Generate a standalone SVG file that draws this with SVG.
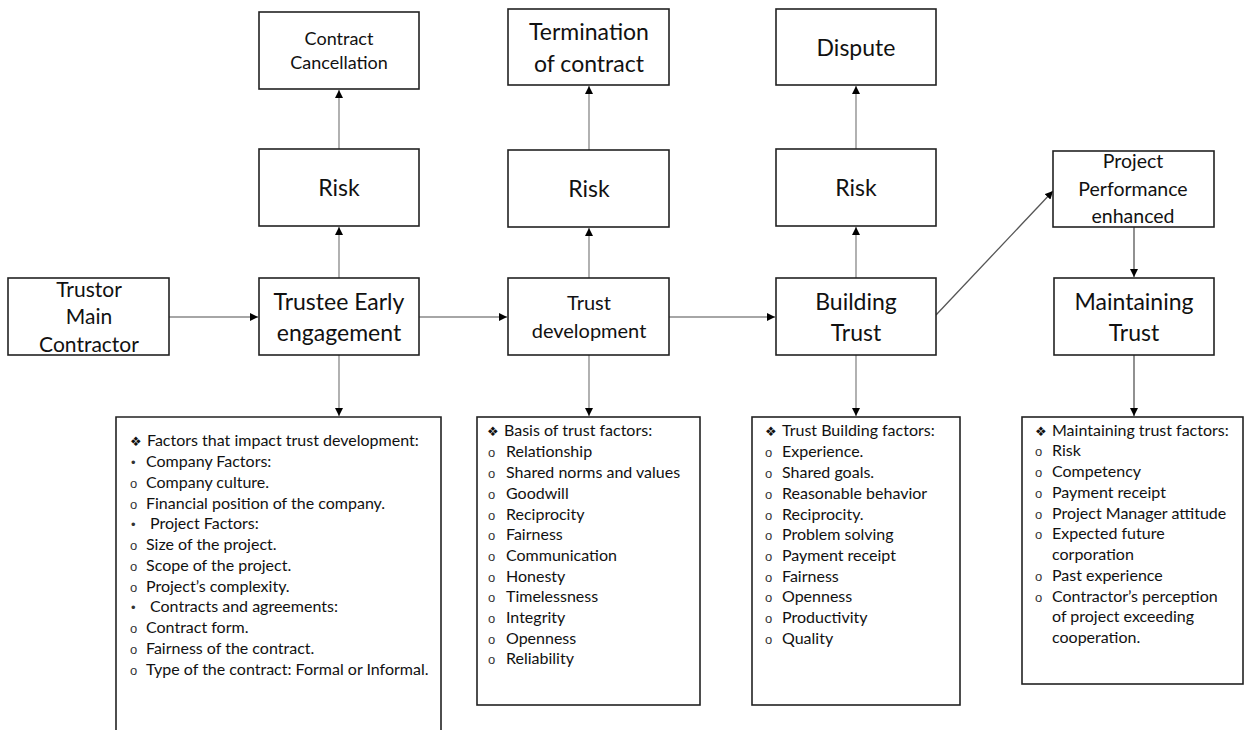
<svg xmlns="http://www.w3.org/2000/svg" width="1244" height="730" viewBox="0 0 1244 730">
<defs>
<style>
.box{fill:#fff;stroke:#222;stroke-width:1.6}
.t{font-family:Lato,"Open Sans","Liberation Sans",sans-serif;fill:#111;text-anchor:middle}
.l{font-family:Lato,"Open Sans","Liberation Sans",sans-serif;fill:#111;font-size:16px}
.s{font-family:"Liberation Sans",sans-serif;fill:#333;font-size:13px}
.d{font-family:"DejaVu Sans",sans-serif;fill:#111;font-size:13px}
.c{stroke:#888;stroke-width:1.3;fill:none;marker-end:url(#ah)}
</style>
<marker id="ah" viewBox="0 0 10 10" refX="10" refY="5" markerWidth="8" markerHeight="8" markerUnits="userSpaceOnUse" orient="auto"><path d="M0,0 L10,5 L0,10 z" fill="#000"/></marker>
</defs>
<rect width="1244" height="730" fill="#fff"/>
<g id="connectors">
<line class="c" x1="169" y1="317" x2="258" y2="317"/>
<line class="c" x1="419" y1="317" x2="507" y2="317"/>
<line class="c" x1="669" y1="317" x2="775" y2="317"/>
<line class="c" x1="339" y1="278" x2="339" y2="227"/>
<line class="c" x1="339" y1="149" x2="339" y2="90"/>
<line class="c" x1="589" y1="278" x2="589" y2="228"/>
<line class="c" x1="589" y1="150" x2="589" y2="86"/>
<line class="c" x1="856" y1="278" x2="856" y2="227"/>
<line class="c" x1="856" y1="149" x2="856" y2="86"/>
<line class="c" x1="936" y1="315" x2="1053" y2="191" style="stroke:#555"/>
<line class="c" x1="1134" y1="227" x2="1134" y2="277" style="stroke:#555"/>
<line class="c" x1="339" y1="355" x2="339" y2="416"/>
<line class="c" x1="589" y1="355" x2="589" y2="416"/>
<line class="c" x1="856" y1="355" x2="856" y2="416"/>
<line class="c" x1="1134" y1="355" x2="1134" y2="416" style="stroke:#555"/>
</g>
<g id="cancel"><rect class="box" x="259" y="12" width="160" height="77"/>
<text class="t" x="339" y="45" font-size="18">Contract</text><text class="t" x="339" y="69" font-size="18">Cancellation</text></g>
<g id="termination"><rect class="box" x="508" y="9" width="161" height="76"/>
<text class="t" x="589" y="40" font-size="23">Termination</text><text class="t" x="589" y="72" font-size="23">of contract</text></g>
<g id="dispute"><rect class="box" x="776" y="9" width="160" height="76"/>
<text class="t" x="856" y="56" font-size="23">Dispute</text></g>
<g id="risk1"><rect class="box" x="259" y="149" width="160" height="77"/>
<text class="t" x="339" y="196" font-size="23">Risk</text></g>
<g id="risk2"><rect class="box" x="508" y="150" width="161" height="77"/>
<text class="t" x="589" y="197" font-size="23">Risk</text></g>
<g id="risk3"><rect class="box" x="776" y="149" width="160" height="77"/>
<text class="t" x="856" y="196" font-size="23">Risk</text></g>
<g id="performance"><rect class="box" x="1053" y="151" width="161" height="76"/>
<text class="t" x="1133" y="168" font-size="19.5">Project</text><text class="t" x="1133" y="196" font-size="19.5">Performance</text><text class="t" x="1133" y="223" font-size="19.5">enhanced</text></g>
<g id="trustor"><rect class="box" x="8" y="278" width="161" height="77"/>
<text class="t" x="89" y="297" font-size="21">Trustor</text><text class="t" x="89" y="324" font-size="21">Main</text><text class="t" x="89" y="352" font-size="21">Contractor</text></g>
<g id="trustee"><rect class="box" x="259" y="278" width="160" height="77"/>
<text class="t" x="339" y="310" font-size="23">Trustee Early</text><text class="t" x="339" y="341" font-size="23">engagement</text></g>
<g id="development"><rect class="box" x="508" y="278" width="161" height="77"/>
<text class="t" x="589" y="310" font-size="20">Trust</text><text class="t" x="589" y="338" font-size="20">development</text></g>
<g id="building"><rect class="box" x="776" y="278" width="160" height="77"/>
<text class="t" x="856" y="310" font-size="23">Building</text><text class="t" x="856" y="341" font-size="23">Trust</text></g>
<g id="maintaining"><rect class="box" x="1054" y="278" width="160" height="77"/>
<text class="t" x="1134" y="310" font-size="23">Maintaining</text><text class="t" x="1134" y="341" font-size="23">Trust</text></g>
<g id="factors1"><path class="box" d="M116,731 V417 H441 V731"/>
<text class="d" x="130" y="446">❖</text><text class="l" x="147" y="446">Factors that impact trust development:</text>
<text class="s" x="131" y="467">•</text><text class="l" x="146" y="467">Company Factors:</text>
<text class="s" x="130" y="488">o</text><text class="l" x="146" y="488">Company culture.</text>
<text class="s" x="130" y="509">o</text><text class="l" x="146" y="509">Financial position of the company.</text>
<text class="s" x="131" y="529">•</text><text class="l" x="150" y="529">Project Factors:</text>
<text class="s" x="130" y="550">o</text><text class="l" x="146" y="550">Size of the project.</text>
<text class="s" x="130" y="571">o</text><text class="l" x="146" y="571">Scope of the project.</text>
<text class="s" x="130" y="592">o</text><text class="l" x="146" y="592">Project’s complexity.</text>
<text class="s" x="131" y="612">•</text><text class="l" x="150" y="612">Contracts and agreements:</text>
<text class="s" x="130" y="633">o</text><text class="l" x="146" y="633">Contract form.</text>
<text class="s" x="130" y="654">o</text><text class="l" x="146" y="654">Fairness of the contract.</text>
<text class="s" x="130" y="675">o</text><text class="l" x="146" y="675">Type of the contract: Formal or Informal.</text></g>
<g id="factors2"><rect class="box" x="477" y="417" width="223" height="288"/>
<text class="d" x="487" y="436">❖</text><text class="l" x="504" y="436">Basis of trust factors:</text>
<text class="s" x="488" y="457">o</text><text class="l" x="506" y="457">Relationship</text>
<text class="s" x="488" y="478">o</text><text class="l" x="506" y="478">Shared norms and values</text>
<text class="s" x="488" y="499">o</text><text class="l" x="506" y="499">Goodwill</text>
<text class="s" x="488" y="520">o</text><text class="l" x="506" y="520">Reciprocity</text>
<text class="s" x="488" y="540">o</text><text class="l" x="506" y="540">Fairness</text>
<text class="s" x="488" y="561">o</text><text class="l" x="506" y="561">Communication</text>
<text class="s" x="488" y="582">o</text><text class="l" x="506" y="582">Honesty</text>
<text class="s" x="488" y="602">o</text><text class="l" x="506" y="602">Timelessness</text>
<text class="s" x="488" y="623">o</text><text class="l" x="506" y="623">Integrity</text>
<text class="s" x="488" y="644">o</text><text class="l" x="506" y="644">Openness</text>
<text class="s" x="488" y="664">o</text><text class="l" x="506" y="664">Reliability</text></g>
<g id="factors3"><rect class="box" x="752" y="417" width="208" height="288"/>
<text class="d" x="765" y="436">❖</text><text class="l" x="782" y="436">Trust Building factors:</text>
<text class="s" x="765" y="457">o</text><text class="l" x="782" y="457">Experience.</text>
<text class="s" x="765" y="478">o</text><text class="l" x="782" y="478">Shared goals.</text>
<text class="s" x="765" y="499">o</text><text class="l" x="782" y="499">Reasonable behavior</text>
<text class="s" x="765" y="520">o</text><text class="l" x="782" y="520">Reciprocity.</text>
<text class="s" x="765" y="540">o</text><text class="l" x="782" y="540">Problem solving</text>
<text class="s" x="765" y="561">o</text><text class="l" x="782" y="561">Payment receipt</text>
<text class="s" x="765" y="582">o</text><text class="l" x="782" y="582">Fairness</text>
<text class="s" x="765" y="602">o</text><text class="l" x="782" y="602">Openness</text>
<text class="s" x="765" y="623">o</text><text class="l" x="782" y="623">Productivity</text>
<text class="s" x="765" y="644">o</text><text class="l" x="782" y="644">Quality</text></g>
<g id="factors4"><rect class="box" x="1022" y="417" width="221" height="267"/>
<text class="d" x="1035" y="436">❖</text><text class="l" x="1052" y="436">Maintaining trust factors:</text>
<text class="s" x="1035" y="456">o</text><text class="l" x="1052" y="456">Risk</text>
<text class="s" x="1035" y="477">o</text><text class="l" x="1052" y="477">Competency</text>
<text class="s" x="1035" y="498">o</text><text class="l" x="1052" y="498">Payment receipt</text>
<text class="s" x="1035" y="519">o</text><text class="l" x="1052" y="519">Project Manager attitude</text>
<text class="s" x="1035" y="539">o</text><text class="l" x="1052" y="539">Expected future</text>
<text class="l" x="1052" y="560">corporation</text>
<text class="s" x="1035" y="581">o</text><text class="l" x="1052" y="581">Past experience</text>
<text class="s" x="1035" y="602">o</text><text class="l" x="1052" y="602">Contractor’s perception</text>
<text class="l" x="1052" y="622">of project exceeding</text>
<text class="l" x="1052" y="643">cooperation.</text></g>
</svg>
